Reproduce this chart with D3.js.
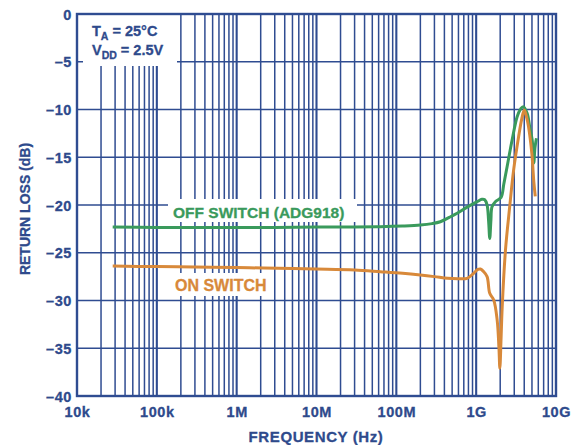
<!DOCTYPE html>
<html><head><meta charset="utf-8">
<script src="https://cdn.jsdelivr.net/npm/d3@7"></script>
<style>
body{margin:0;background:#fff;}
svg text{font-family:"Liberation Sans",Arial,Helvetica,sans-serif;font-weight:bold;stroke-width:0.3px;}
</style></head>
<body><svg id="c" width="578" height="445"></svg>
<script>
// ---- data ----
const xTickValues = [1e4, 1e5, 1e6, 1e7, 1e8, 1e9, 1e10];
const xTickLabels = ["10k", "100k", "1M", "10M", "100M", "1G", "10G"];
const yTickValues = [0, -5, -10, -15, -20, -25, -30, -35, -40];
const yTickLabels = ["0", "–5", "–10", "–15", "–20", "–25", "–30", "–35", "–40"];

const offFreq = [2.8e4, 1e5, 3e5, 1e6, 3e6, 1e7, 3e7, 6.3e7, 1.2e8, 2.0e8, 2.8e8, 3.56e8, 4.6e8, 5.77e8, 7.8e8, 1.03e9, 1.18e9, 1.28e9, 1.37e9, 1.43e9, 1.48e9, 1.53e9, 1.58e9, 1.74e9, 2.05e9, 2.22e9, 2.44e9, 2.82e9, 3.26e9, 3.6e9, 3.88e9, 4.35e9, 4.7e9, 5.03e9, 5.27e9, 5.45e9, 5.69e9];
const offDb   = [-22.3, -22.35, -22.35, -22.35, -22.35, -22.3, -22.3, -22.27, -22.2, -22.1, -21.95, -21.75, -21.3, -20.87, -20.2, -19.65, -19.4, -19.45, -20.0, -21.6, -23.5, -21.6, -20.18, -19.65, -19.2, -17.8, -16.0, -13.2, -10.75, -9.95, -9.7, -10.4, -11.9, -13.2, -15.6, -14.0, -13.0];

const onFreq = [2.8e4, 1e5, 3e5, 1e6, 2.2e6, 1e7, 3e7, 6.3e7, 1.2e8, 2.0e8, 3e8, 4.4e8, 6e8, 7.7e8, 9.3e8, 1.05e9, 1.13e9, 1.23e9, 1.37e9, 1.48e9, 1.66e9, 1.83e9, 1.93e9, 1.98e9, 2.05e9, 2.12e9, 2.33e9, 2.63e9, 2.95e9, 3.4e9, 3.72e9, 4.0e9, 4.28e9, 4.53e9, 4.98e9, 5.28e9, 5.5e9];
const onDb   = [-26.4, -26.45, -26.5, -26.55, -26.6, -26.7, -26.8, -26.98, -27.15, -27.33, -27.5, -27.68, -27.72, -27.68, -27.15, -26.75, -26.7, -26.95, -27.5, -29.25, -29.95, -32.0, -35.0, -37.1, -34.0, -30.65, -24.7, -20.18, -16.3, -12.85, -11.0, -10.05, -10.8, -11.8, -14.6, -17.6, -19.1];

const offLabel = "OFF SWITCH (ADG918)";
const onLabel = "ON SWITCH";

// ---- layout ----
const L = 77, R = 556, T = 14, B = 396;
const gridColor = "#2f4c91";
const textColor = "#2e4a8c";
const green = "#3a9a5c";
const orange = "#d8893a";

const svg = d3.select("#c");
const x = d3.scaleLog().domain([1e4, 1e10]).range([L, R]);
const y = d3.scaleLinear().domain([-40, 0]).range([B, T]);

// minor vertical grid
const minor = [];
for (let d = 1e4; d < 1e10; d *= 10) for (let k = 2; k <= 9; k++) minor.push(d * k);
svg.append("g").selectAll("line").data(minor).join("line")
  .attr("x1", d => x(d)).attr("x2", d => x(d)).attr("y1", T).attr("y2", B)
  .attr("stroke", gridColor).attr("stroke-width", 1.5);
// decade lines
svg.append("g").selectAll("line").data(xTickValues.slice(1, -1)).join("line")
  .attr("x1", d => x(d)).attr("x2", d => x(d)).attr("y1", T).attr("y2", B)
  .attr("stroke", gridColor).attr("stroke-width", 2.1);
// horizontal grid
svg.append("g").selectAll("line").data(yTickValues.slice(1, -1)).join("line")
  .attr("x1", L).attr("x2", R).attr("y1", d => y(d)).attr("y2", d => y(d))
  .attr("stroke", gridColor).attr("stroke-width", 1.7);

// white label backgrounds
svg.append("rect").attr("x", 83).attr("y", T).attr("width", 94).attr("height", 52).attr("fill", "#fff");
svg.append("rect").attr("x", 168).attr("y", 199).attr("width", 189).attr("height", 23).attr("fill", "#fff");
svg.append("rect").attr("x", 170).attr("y", 273).attr("width", 103).attr("height", 23).attr("fill", "#fff");

// border
svg.append("rect").attr("x", L).attr("y", T).attr("width", R - L).attr("height", B - T)
  .attr("fill", "none").attr("stroke", gridColor).attr("stroke-width", 2.4);

// curves
const line = d3.line().x(d => x(d[0])).y(d => y(d[1])).curve(d3.curveCatmullRom.alpha(0.5));
const offData = offFreq.map((f, i) => [f, offDb[i]]);
const onData = onFreq.map((f, i) => [f, onDb[i]]);
svg.append("path").attr("d", line(offData)).attr("fill", "none").attr("stroke", green).attr("stroke-width", 3).attr("stroke-linejoin", "round");
svg.append("path").attr("d", line(onData)).attr("fill", "none").attr("stroke", orange).attr("stroke-width", 3).attr("stroke-linejoin", "round");

// axes tick labels
const xAxis = d3.axisBottom(x).tickValues(xTickValues).tickFormat((d, i) => xTickLabels[i]).tickSize(0).tickPadding(0);
const gx = svg.append("g").attr("transform", `translate(0,${B})`).call(xAxis);
gx.select(".domain").remove();
gx.selectAll("text").attr("fill", textColor).attr("stroke", textColor).attr("font-size", "14.5px").attr("letter-spacing", "0.6px")
  .attr("dy", null).attr("y", 21);

const yAxis = d3.axisLeft(y).tickValues(yTickValues).tickFormat((d, i) => yTickLabels[i]).tickSize(0).tickPadding(0);
const gy = svg.append("g").attr("transform", `translate(${L - 5},0)`).call(yAxis);
gy.select(".domain").remove();
gy.selectAll("text").attr("fill", textColor).attr("stroke", textColor).attr("font-size", "14.5px").attr("letter-spacing", "0.6px")
  .attr("dy", "0.36em").attr("x", 0);

// axis titles
svg.append("text").attr("x", 316).attr("y", 442).attr("text-anchor", "middle")
  .attr("fill", textColor).attr("stroke", textColor).attr("font-size", "15px").attr("letter-spacing", "0.6px").text("FREQUENCY (Hz)");
svg.append("text").attr("transform", "translate(30,209) rotate(-90)").attr("text-anchor", "middle")
  .attr("fill", textColor).attr("stroke", textColor).attr("font-size", "14px").text("RETURN LOSS (dB)");

// conditions box
const t1 = svg.append("text").attr("x", 92).attr("y", 36).attr("fill", textColor).attr("stroke", textColor).attr("font-size", "14.5px");
t1.append("tspan").text("T");
t1.append("tspan").attr("font-size", "10.5px").attr("dy", 3.5).text("A");
t1.append("tspan").attr("dy", -3.5).text(" = 25°C");
const t2 = svg.append("text").attr("x", 92).attr("y", 55).attr("fill", textColor).attr("stroke", textColor).attr("font-size", "14.5px");
t2.append("tspan").text("V");
t2.append("tspan").attr("font-size", "10.5px").attr("dy", 3.5).text("DD");
t2.append("tspan").attr("dy", -3.5).text(" = 2.5V");

// series labels
svg.append("text").attr("x", 173).attr("y", 218).attr("fill", green).attr("stroke", green).attr("font-size", "15.5px").text(offLabel);
svg.append("text").attr("x", 175).attr("y", 291).attr("fill", orange).attr("stroke", orange).attr("font-size", "16px").text(onLabel);
</script></body></html>
